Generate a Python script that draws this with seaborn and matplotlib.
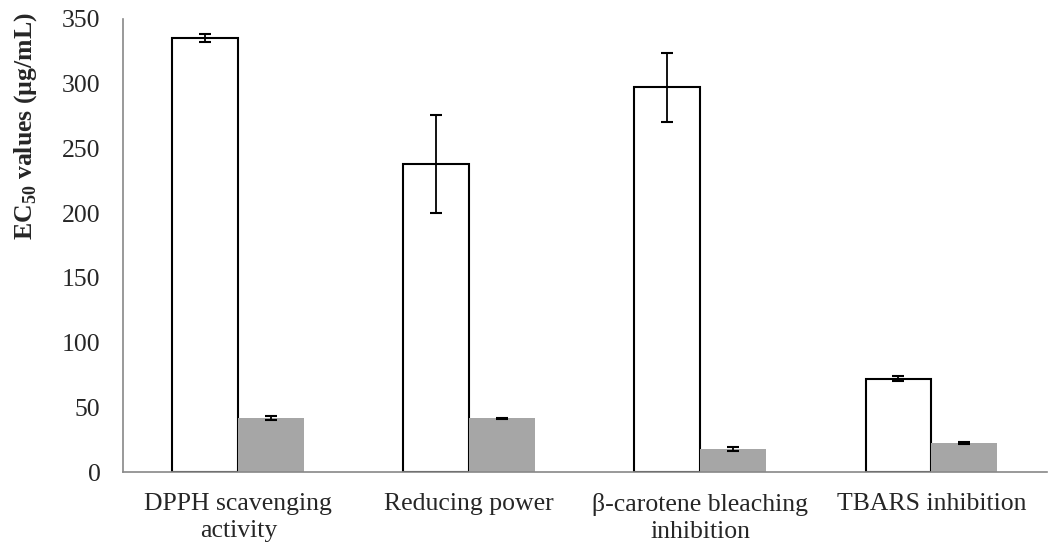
import matplotlib
matplotlib.use("Agg")
import matplotlib.pyplot as plt
import seaborn as sns
import pandas as pd
import numpy as np

categories = ["DPPH scavenging\nactivity", "Reducing power",
              "β-carotene bleaching\ninhibition", "TBARS inhibition"]
series_names = ["Extract", "Standard"]
extract_vals = [335, 238, 297, 72]
extract_err = [3, 38, 27, 2]
standard_vals = [41.5, 41.5, 18, 22.5]
standard_err = [1.5, 0.5, 1.5, 1]
yticks = [0, 50, 100, 150, 200, 250, 300, 350]

sns.set_theme(style="white")
plt.rcParams['font.family'] = ['Liberation Serif', 'DejaVu Serif']
plt.rcParams['mathtext.fontset'] = 'custom'
plt.rcParams['mathtext.rm'] = 'Liberation Serif'
plt.rcParams['mathtext.bf'] = 'Liberation Serif:bold'

FS = 18.5

df = pd.DataFrame({
    "category": categories * 2,
    "series": [series_names[0]] * 4 + [series_names[1]] * 4,
    "value": extract_vals + standard_vals,
})

fig = plt.figure(figsize=(10.49, 5.54), dpi=100)
ax = fig.add_axes([0.117, 0.148, 0.881, 0.818])

sns.barplot(data=df, x="category", y="value", hue="series",
            palette={series_names[0]: "white", series_names[1]: "#a6a6a6"},
            width=0.57, gap=0, legend=False, errorbar=None, ax=ax, zorder=2)

n = len(categories)
patches = ax.patches[:2 * n]
errs = extract_err + standard_err
vals = extract_vals + standard_vals
for i, p in enumerate(patches):
    if i < n:
        p.set_edgecolor("black")
        p.set_linewidth(1.5)
    else:
        p.set_edgecolor("none")
    cx = p.get_x() + p.get_width() / 2
    ax.errorbar(cx, vals[i], yerr=errs[i], fmt="none", ecolor="black",
                elinewidth=1.3, capsize=4.3, capthick=1.5, zorder=3)

ax.set_xlim(-0.5, n - 0.5)
ax.set_ylim(0, 350)
ax.set_yticks(yticks)
ax.set_yticklabels([str(t) for t in yticks], fontsize=FS)
ax.set_xticks(range(n))
ax.set_xticklabels(categories, fontsize=FS, linespacing=1.3)
ax.set_xticks(np.arange(-0.5, n, 1.0), minor=True)
ax.tick_params(axis="x", which="major", length=0, pad=15)
ax.tick_params(axis="x", which="minor", length=7, width=1.2, color="#888888", direction="out")
ax.tick_params(axis="y", which="major", length=6, width=1.2, color="#888888", direction="out", pad=10)
ax.set_xlabel("")
ax.set_ylabel(r"EC$_{\mathbf{50}}$ values (µg/mL)", fontsize=FS, fontweight="bold")
ax.yaxis.set_label_coords(-0.091, 0.764)

for s in ["top", "right"]:
    ax.spines[s].set_visible(False)
for s in ["left", "bottom"]:
    ax.spines[s].set_color("#888888")
    ax.spines[s].set_linewidth(1.2)

fig.savefig("out.png", dpi=100)
